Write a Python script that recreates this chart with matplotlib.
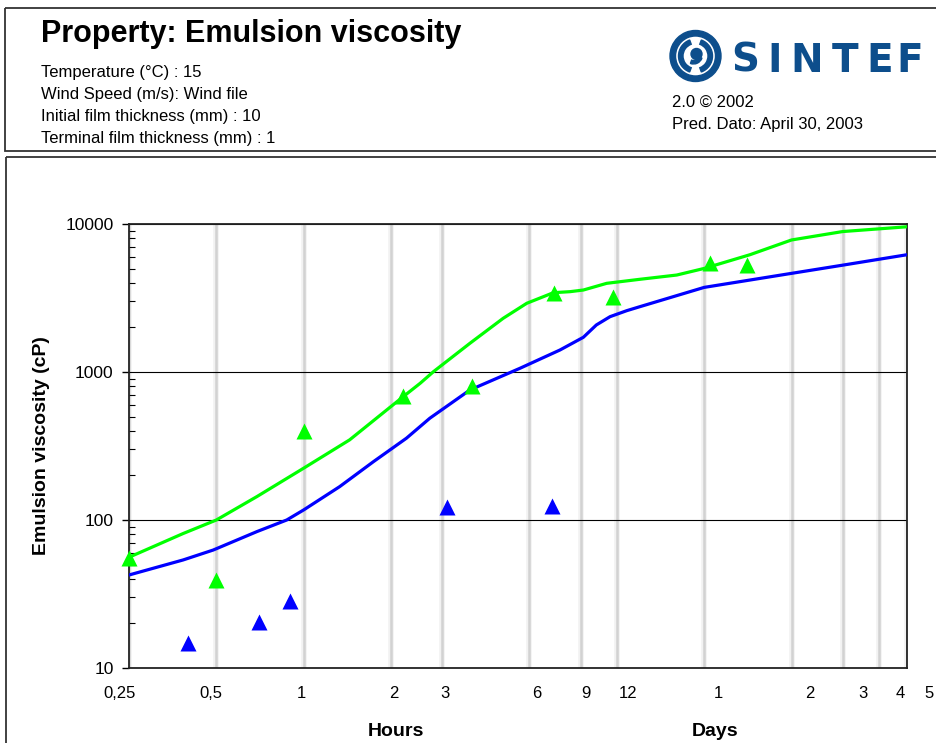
import matplotlib
matplotlib.use("Agg")
import matplotlib.pyplot as plt
import matplotlib.patches as mpatches
import matplotlib.transforms as mtransforms
import matplotlib.patheffects as pe

plt.rcParams['font.family'] = ['Liberation Sans', 'DejaVu Sans']

# model curves (time in hours, viscosity in cP)
green_t = [0.25, 0.384, 0.5, 0.69, 1.0, 1.44, 2.2, 2.52, 2.8, 3.74, 4.87, 5.87,
           6.7, 7.25, 8.28, 9.2, 11.07, 14.4, 19.3, 24, 34.5, 48, 72, 120]
green_v = [56, 81, 100, 144, 224, 348, 680, 839, 1005, 1563, 2306, 2912,
           3228, 3434, 3490, 3580, 3973, 4230, 4520, 5010, 6200, 7800, 8890, 9580]

blue_t = [0.25, 0.384, 0.488, 0.69, 0.874, 1.0, 1.33, 1.74, 2.26, 2.72, 3.74,
          5.56, 7.64, 9.2, 10.2, 11.37, 12.98, 14.4, 24, 48, 72, 120]
blue_v = [42.5, 53.7, 62.7, 83.5, 100, 117, 168, 248, 357, 487, 756,
          1059, 1408, 1716, 2079, 2365, 2596, 2762, 3730, 4640, 5270, 6200]

# measured data (triangles)
green_obs_t = [0.25, 0.5, 1.0, 2.2, 3.79, 7.3, 11.6, 25.1, 33.6]
green_obs_v = [55, 39.3, 400, 688, 806, 3430, 3228, 5410, 5270]
blue_obs_t = [0.40, 0.70, 0.90, 3.11, 7.2]
blue_obs_v = [14.8, 20.5, 28.5, 122, 125]

# x axis ticks (hours) and labels
tick_hours = [0.25, 0.5, 1, 2, 3, 6, 9, 12, 24, 48, 72, 96, 120]
tick_labels = ['0,25', '0,5', '1', '2', '3', '6', '9', '12', '1', '2', '3', '4', '5']
label_shift_px = [-9, -5, -2, 3, 3, 7, 5, 11, 14, 18, 20, 21, 22]

header_lines = ['Temperature (°C) : 15', 'Wind Speed (m/s): Wind file',
                'Initial film thickness (mm) : 10', 'Terminal film thickness (mm) : 1']

W, H = 937, 743
fig = plt.figure(figsize=(W / 100, H / 100), dpi=100)

# overlay in pixel coords for frames, header and logo
bg = fig.add_axes([0, 0, 1, 1], zorder=0)
bg.set_xlim(0, W)
bg.set_ylim(H, 0)
bg.axis('off')
bg.add_patch(mpatches.Rectangle((5, 8), 960, 143, fill=False, ec='#333333', lw=1.3))
bg.add_patch(mpatches.Rectangle((6, 157), 960, 620, fill=False, ec='#333333', lw=1.3))

bg.text(41, 42, 'Property: Emulsion viscosity', fontsize=22, fontweight='bold',
        va='baseline', ha='left')
for i, line in enumerate(header_lines):
    bg.text(41, 72 + i * 22.3, line, fontsize=12, va='center', ha='left')
bg.text(672, 102, '2.0 © 2002', fontsize=12, va='center', ha='left')
bg.text(672, 124, 'Pred. Dato: April 30, 2003', fontsize=12, va='center', ha='left')

# SINTEF logo
logo = '#0D4E8C'
cx, cy = 695.5, 56
bg.add_patch(mpatches.Wedge((cx, cy), 25.5, 0, 360, width=5.5, color=logo))
bg.add_patch(mpatches.Wedge((cx, cy), 17, 110, 250, width=4.5, color=logo))
bg.add_patch(mpatches.Wedge((cx, cy), 17, 290, 70, width=4.5, color=logo))
bg.add_patch(mpatches.Circle((cx + 1, cy - 2), 5.5, color=logo))
bg.add_patch(mpatches.Wedge((cx - 2, cy - 1), 9, 20, 110, width=3.5, color=logo))
for ch, x in zip('SINTEF', [745, 775, 806.5, 845, 880, 909.5]):
    bg.text(x, 71.5, ch, fontsize=28, fontweight='heavy', color=logo,
            ha='center', va='baseline', family='DejaVu Sans')

# chart
ax = fig.add_axes([129 / W, (H - 668) / H, 778 / W, 444 / H], zorder=1)
ax.patch.set_alpha(0)
ax.set_xscale('log')
ax.set_yscale('log')
ax.set_xlim(0.25, 120)
ax.set_ylim(10, 10000)

ax.plot(green_t, green_v, color='#00FF00', lw=2.3, zorder=3)
ax.plot(blue_t, blue_v, color='#0000FF', lw=2.3, zorder=3)
ax.plot(green_obs_t, green_obs_v, '^', color='#00FF00', ms=11, mec='none',
        clip_on=False, zorder=4)
ax.plot(blue_obs_t, blue_obs_v, '^', color='#0000FF', ms=11, mec='none',
        clip_on=False, zorder=4)

ax.set_xticks(tick_hours)
ax.set_xticklabels(tick_labels, fontsize=12)
ax.xaxis.set_minor_locator(matplotlib.ticker.NullLocator())
ax.tick_params(axis='x', which='major', length=0, pad=13)
for lab, dx in zip(ax.get_xticklabels(), label_shift_px):
    lab.set_transform(lab.get_transform() +
                      mtransforms.ScaledTranslation(dx / 100, 0, fig.dpi_scale_trans))
ax.grid(axis='x', which='major', color='#d2d2d2', lw=1.8)
for gl in ax.get_xgridlines():
    gl.set_path_effects([pe.withStroke(linewidth=4, foreground='#f2f2f2')])

ax.set_yticks([10, 100, 1000, 10000])
ax.set_yticklabels(['10', '100', '1000', '10000'], fontsize=12.5)
ax.tick_params(axis='y', which='major', direction='out', length=5, width=1, pad=6)
ax.tick_params(axis='y', which='minor', direction='in', length=4, width=0.8)
ax.yaxis.set_minor_formatter(matplotlib.ticker.NullFormatter())
ax.grid(axis='y', which='major', color='black', lw=0.8)

for s in ax.spines.values():
    s.set_linewidth(1.3)
    s.set_color('#222222')

ax.set_ylabel('Emulsion viscosity (cP)', fontsize=14, fontweight='bold')
ax.yaxis.set_label_coords(-(129 - 50) / 778, 0.5)

bg.text(396, 732, 'Hours', fontsize=14, fontweight='bold', ha='center', va='center')
bg.text(715, 732, 'Days', fontsize=14, fontweight='bold', ha='center', va='center')

fig.savefig('out.png', dpi=100)
